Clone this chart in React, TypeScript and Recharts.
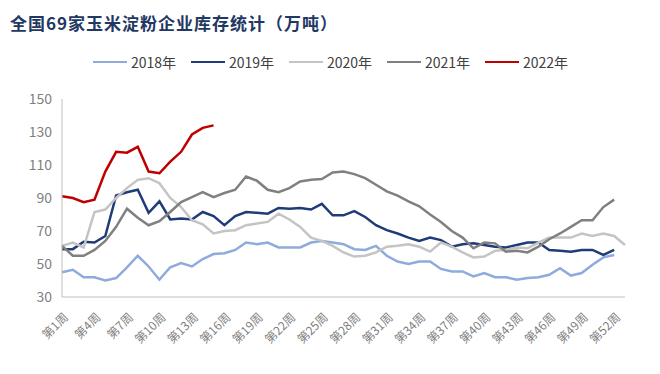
import { CartesianGrid, Legend, Line, LineChart, XAxis, YAxis } from "recharts";

const weeks = Array.from({ length: 53 }, (_, i) => `第${i + 1}周`);

const s2018 = [45, 46.5, 42, 42, 40, 41.5, 48, 55, 48.5, 40.5, 48, 50.5, 48.5, 53, 56, 56.5, 58.5, 63, 62, 63, 60, 60, 60, 63, 64, 63, 62, 59, 58.5, 61, 55, 51.5, 50, 51.5, 51.5, 47, 45.5, 45.5, 42.5, 44.5, 42, 42, 40.5, 41.5, 42, 43.5, 47.5, 43, 44.5, 49.5, 54, 55.5];
const s2019 = [59, 59, 63.5, 63, 67, 91.5, 93.5, 95, 81, 88, 77, 77.5, 77, 81.5, 79, 73.5, 79, 81.5, 81, 80.5, 84, 83.5, 84, 83, 86.5, 79.5, 79.5, 82, 78.5, 73.5, 70.5, 68.5, 66, 64, 66, 64.5, 60.5, 62, 62.5, 61.5, 60.5, 60, 61.5, 63, 63, 58.5, 58, 57.5, 58.5, 58.5, 55.5, 58.5];
const s2020 = [61, 63, 60, 81.5, 83, 90, 96, 101, 102, 99, 90, 84.5, 76.5, 74, 68.5, 70, 70.5, 73.5, 74.5, 75.5, 80.5, 77, 72.5, 66, 64, 61, 57, 54.5, 55, 57, 60.5, 61, 62, 60.5, 57.5, 63, 60.5, 57, 54, 54.5, 58, 58.5, 60, 59.5, 63, 66, 66, 66, 68.5, 67, 68.5, 67, 61.5];
const s2021 = [61, 55, 55, 58.5, 64, 72.5, 83.5, 78, 73.5, 76, 81.5, 87.5, 90.5, 93.5, 90.5, 93, 95, 103, 100.5, 95, 93.5, 96, 100, 101, 101.5, 105.5, 106, 104.5, 102, 98, 94, 91.5, 88, 85, 80, 75.5, 70, 66, 59.5, 63, 62.5, 57.5, 58, 57, 60.5, 65, 68.5, 72.5, 76.5, 76.5, 84.5, 89];
const s2022 = [91, 90, 87.5, 89, 106, 118, 117.5, 121, 106, 105, 112, 118, 128.5, 132.5, 134];

const yTicks = [30, 50, 70, 90, 110, 130, 150];

const series = [
  { key: "y2018", name: "2018年", color: "#8FAADC" },
  { key: "y2019", name: "2019年", color: "#1F3C78" },
  { key: "y2020", name: "2020年", color: "#C4C4C4" },
  { key: "y2021", name: "2021年", color: "#808080" },
  { key: "y2022", name: "2022年", color: "#C00000" },
];

const data = weeks.map((week, i) => ({
  week,
  y2018: s2018[i],
  y2019: s2019[i],
  y2020: s2020[i],
  y2021: s2021[i],
  y2022: s2022[i],
}));

const font = "'Noto Sans CJK SC', 'Noto Sans', sans-serif";

function WeekTick({ x, y, payload }: any) {
  return (
    <g transform={`translate(${x + 4},${y + 10})`}>
      <text transform="rotate(-45)" textAnchor="end" dy="0.35em" fill="#7f7f7f" fontSize={12} fontFamily={font}>
        {payload.value}
      </text>
    </g>
  );
}

function LegendRow() {
  return (
    <div style={{ display: "flex", fontFamily: font, fontSize: 14, color: "#404040", marginLeft: 93 }}>
      {series.map((s) => (
        <div key={s.key} style={{ display: "flex", alignItems: "center", width: 98 }}>
          <span style={{ display: "inline-block", width: 34, height: 2.5, background: s.color, marginRight: 4 }} />
          <span>{s.name}</span>
        </div>
      ))}
    </div>
  );
}

export default function App() {
  return (
    <div style={{ position: "absolute", left: 0, top: 0, width: 660, height: 374, background: "#fff" }}>
      <div
        style={{
          position: "absolute",
          left: 10,
          top: 10,
          fontFamily: font,
          fontWeight: 700,
          fontSize: 17,
          letterSpacing: 1,
          color: "#1F3864",
        }}
      >
        全国69家玉米淀粉企业库存统计（万吨）
      </div>
      <LineChart width={660} height={374} data={data} margin={{ top: 79, right: 35, bottom: 17, left: 0 }}>
        <CartesianGrid stroke="none" />
        <XAxis
          dataKey="week"
          interval={2}
          tick={<WeekTick />}
          tickLine={false}
          axisLine={{ stroke: "#BFBFBF" }}
          height={60}
        />
        <YAxis
          domain={[30, 150]}
          ticks={yTicks}
          width={62}
          tickLine={false}
          tickSize={0}
          tickMargin={10}
          axisLine={{ stroke: "#BFBFBF" }}
          tick={{ fill: "#7f7f7f", fontSize: 14, fontFamily: font }}
        />
        <Legend verticalAlign="top" wrapperStyle={{ top: 52, left: 0, width: 660 }} content={() => <LegendRow />} />
        {series.map((s) => (
          <Line
            key={s.key}
            dataKey={s.key}
            name={s.name}
            stroke={s.color}
            strokeWidth={2.5}
            dot={false}
            type="linear"
            isAnimationActive={false}
          />
        ))}
      </LineChart>
    </div>
  );
}
